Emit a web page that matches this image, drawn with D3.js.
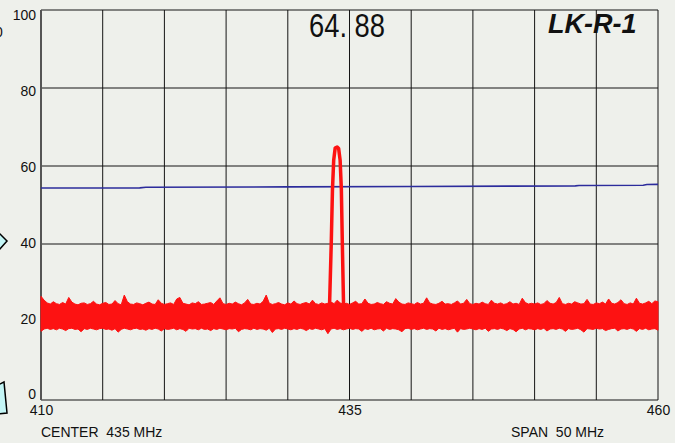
<!DOCTYPE html>
<html lang="en">
<head>
  <meta charset="utf-8">
  <title>LK-R-1 spectrum</title>
  <script src="https://d3js.org/d3.v7.min.js"></script>
  <style>
    body { margin: 0; background: #eef0eb; }
    svg { display: block; }
    .tick text { font-family: "Liberation Sans", Arial, sans-serif; font-size: 14px; fill: #111; }
    .note { font-family: "Liberation Sans", Arial, sans-serif; font-size: 14px; fill: #111; white-space: pre; }
  </style>
</head>
<body>
<script>
// chart data
var freqStart = 410, freqEnd = 460, freqStep = 0.25;
var xTicks = [410, 435, 460];
var yTicks = [0, 20, 40, 60, 80, 100];
var markerValue = "64. 88";
var traceName = "LK-R-1";
var centerLabel = "CENTER  435 MHz";
var spanLabel = "SPAN  50 MHz";

// upper / lower edge of the noise band, one value every 0.25 MHz
var noiseUpper = [
  26.6, 25.6, 24.9, 24.6, 25.2, 24.7, 24.5, 25.0, 24.6, 26.3, 25.1, 24.6, 24.4, 24.8, 24.9, 24.5, 24.7, 25.3, 24.6, 24.4,
  24.8, 25.0, 24.5, 24.6, 25.5, 24.7, 24.4, 26.9, 25.2, 24.6, 24.5, 24.9, 24.7, 24.4, 24.8, 25.1, 24.6, 24.5, 25.7, 24.8,
  24.5, 24.7, 24.9, 24.5, 25.9, 26.3, 24.8, 24.6, 24.4, 24.9, 24.7, 25.2, 24.5, 24.6, 24.8, 25.0, 24.5, 25.4, 26.2, 24.7,
  24.5, 24.8, 24.6, 25.1, 24.7, 24.4, 24.9, 25.8, 24.6, 24.5, 24.8, 24.6, 25.3, 26.9, 24.8, 24.5, 24.7, 25.0, 24.6, 24.4,
  24.9, 24.6, 25.4, 24.7, 24.5, 24.8, 25.0, 24.6, 25.6, 24.7, 24.5, 24.9, 24.6, 24.8, 25.1, 24.7, 25.6, 24.9, 24.6, 24.8,
  24.5, 24.9, 25.3, 24.6, 24.7, 25.9, 24.8, 24.5, 24.6, 25.0, 24.7, 24.5, 25.2, 24.8, 24.6, 26.0, 25.1, 24.6, 24.5, 24.9,
  24.7, 24.5, 25.0, 24.6, 24.8, 26.2, 24.9, 24.6, 24.5, 24.8, 25.3, 24.6, 24.7, 24.5, 24.9, 25.4, 24.6, 24.8, 25.8, 24.7,
  24.5, 24.8, 24.6, 25.1, 24.7, 24.5, 25.6, 24.8, 24.6, 24.9, 24.5, 24.7, 25.2, 24.6, 24.8, 24.5, 26.1, 25.0, 24.6, 24.8,
  24.6, 24.9, 24.5, 24.7, 25.5, 24.8, 24.6, 25.0, 26.3, 24.7, 24.5, 24.8, 24.6, 25.2, 24.9, 24.6, 24.7, 25.8, 24.6, 24.5,
  24.9, 24.7, 25.1, 24.6, 25.9, 24.8, 24.6, 25.0, 25.7, 24.7, 24.5, 24.9, 24.6, 26.1, 24.8, 24.6, 24.9, 25.3, 24.7, 25.4, 25.2
];
var noiseLower = [
  17.6, 18.2, 18.4, 18.1, 18.3, 18.0, 18.4, 18.2, 17.8, 18.3, 18.4, 18.1, 18.2, 17.5, 18.3, 18.1, 18.4, 18.2, 18.0, 18.3,
  18.4, 18.1, 18.2, 17.9, 18.3, 17.4, 18.1, 18.4, 18.2, 18.0, 18.3, 18.4, 18.1, 18.2, 17.9, 18.3, 18.1, 18.4, 18.2, 17.7,
  18.3, 18.1, 18.2, 18.4, 18.0, 18.3, 18.1, 17.6, 18.4, 18.2, 18.3, 18.0, 18.4, 18.1, 18.2, 17.8, 18.3, 18.1, 18.4, 18.2,
  18.0, 18.3, 18.2, 18.4, 17.5, 18.1, 18.3, 18.2, 18.0, 18.4, 18.1, 18.3, 18.2, 17.9, 18.4, 17.3, 18.2, 18.3, 18.1, 18.4,
  18.2, 18.0, 18.3, 18.1, 18.4, 18.2, 17.8, 18.3, 18.1, 18.4, 18.2, 18.0, 18.3, 17.0, 18.2, 18.4, 18.1, 18.3, 18.0, 18.2,
  18.4, 18.1, 18.3, 18.2, 17.6, 18.3, 18.1, 18.4, 18.0, 18.2, 18.3, 17.7, 18.4, 18.1, 18.3, 18.2, 18.0, 17.5, 18.3, 18.4,
  18.1, 18.3, 18.0, 18.2, 18.4, 18.1, 18.3, 18.2, 17.7, 18.4, 18.1, 18.3, 18.0, 18.2, 18.4, 17.4, 18.3, 18.1, 18.2, 18.4,
  18.2, 18.0, 18.3, 18.1, 18.4, 17.6, 18.2, 18.3, 18.1, 18.4, 18.2, 17.8, 18.3, 18.1, 17.5, 18.2, 18.4, 18.0, 18.3, 18.2,
  18.0, 18.3, 18.1, 18.4, 17.7, 18.2, 18.3, 18.1, 18.4, 18.2, 17.6, 18.3, 18.1, 18.2, 18.4, 18.0, 17.4, 18.3, 18.2, 18.1,
  18.4, 18.2, 18.3, 17.8, 18.1, 18.3, 18.4, 17.7, 18.2, 18.3, 18.1, 18.4, 18.2, 17.6, 18.3, 18.1, 18.4, 18.0, 18.2, 18.3, 17.9
];

// the signal peak, [MHz, level]
var peakFreq = [433.38, 433.52, 433.62, 433.72, 433.84, 434.0, 434.12, 434.24, 434.34, 434.42, 434.52];
var peakLevel = [24, 40, 54, 61.5, 64.6, 64.88, 64.5, 61.5, 54, 40, 24];

// blue reference line, [MHz, level]
var refFreq = [410, 418, 418.5, 430, 440, 448, 453.3, 453.6, 458.8, 459.1, 460];
var refLevel = [54.35, 54.4, 54.55, 54.65, 54.75, 54.85, 54.9, 55.0, 55.05, 55.25, 55.3];

var width = 675, height = 443;
var plotL = 41, plotR = 658, plotT = 10, plotB = 400;

var svg = d3.select("body").append("svg")
  .attr("width", width)
  .attr("height", height);

svg.append("rect").attr("width", width).attr("height", height).attr("fill", "#eef0eb");

var x = d3.scaleLinear().domain([freqStart, freqEnd]).range([plotL, plotR]);
var y = d3.scaleLinear().domain([0, 100]).range([plotB, plotT]);
// labels sit slightly inside the grid rows
var yLab = d3.scaleLinear().domain([0, 100]).range([394.5, 15]);

// grid
var grid = svg.append("g").attr("stroke", "#151515").attr("stroke-width", 1);
grid.selectAll("line.v")
  .data(d3.range(freqStart, freqEnd + 0.1, 5))
  .enter().append("line")
  .attr("class", "v")
  .attr("x1", d => x(d)).attr("x2", d => x(d))
  .attr("y1", plotT).attr("y2", plotB);
grid.selectAll("line.h")
  .data(yTicks)
  .enter().append("line")
  .attr("class", "h")
  .attr("x1", plotL).attr("x2", plotR)
  .attr("y1", d => y(d)).attr("y2", d => y(d));
svg.append("line").attr("x1", plotL).attr("x2", plotL).attr("y1", plotT).attr("y2", plotB)
  .attr("stroke", "#555").attr("stroke-width", 2);

// axes
var yAxis = svg.append("g")
  .attr("transform", "translate(" + plotL + ",0)")
  .call(d3.axisLeft(yLab).tickValues(yTicks).tickSize(0).tickPadding(5));
yAxis.select(".domain").remove();

var xAxis = svg.append("g")
  .attr("transform", "translate(0," + plotB + ")")
  .call(d3.axisBottom(x).tickValues(xTicks).tickSize(0).tickPadding(5));
xAxis.select(".domain").remove();

// blue reference
var line = d3.line().x(d => x(d[0])).y(d => y(d[1]));
svg.append("path")
  .datum(d3.zip(refFreq, refLevel))
  .attr("fill", "none")
  .attr("stroke", "#2c2c9c")
  .attr("stroke-width", 1.6)
  .attr("d", line);

// noise band
var noise = d3.range(noiseUpper.length).map(i => ({
  f: freqStart + i * freqStep, hi: noiseUpper[i], lo: noiseLower[i]
}));
var band = d3.area().x(d => x(d.f)).y0(d => y(d.lo)).y1(d => y(d.hi));
svg.append("path")
  .datum(noise)
  .attr("fill", "#fd1212")
  .attr("stroke", "#fd1212")
  .attr("stroke-width", 1)
  .attr("d", band);

// peak
svg.append("path")
  .datum(d3.zip(peakFreq, peakLevel))
  .attr("fill", "none")
  .attr("stroke", "#fd1212")
  .attr("stroke-width", 3.5)
  .attr("stroke-linejoin", "round")
  .attr("d", line);

// texts
svg.append("text")
  .attr("x", 309).attr("y", 37)
  .attr("textLength", 76)
  .attr("lengthAdjust", "spacingAndGlyphs")
  .style("font-family", "'Liberation Sans', Arial, sans-serif")
  .style("font-size", "33px")
  .attr("fill", "#111")
  .text(markerValue);

svg.append("text")
  .attr("x", 548).attr("y", 33)
  .style("font-family", "'Liberation Sans', Arial, sans-serif")
  .style("font-size", "27px")
  .style("font-weight", "bold")
  .style("font-style", "italic")
  .attr("fill", "#111")
  .text(traceName);

svg.append("text").attr("class", "note").attr("x", 41).attr("y", 437).text(centerLabel);
svg.append("text").attr("class", "note").attr("x", 511).attr("y", 437).text(spanLabel);

// cut-off bits of the slide at the left edge
svg.append("text").attr("class", "note").attr("x", -5).attr("y", 37).text("0");
svg.append("path")
  .attr("d", "M-2,232 L7,241 L-2,251")
  .attr("fill", "#c4f6f6").attr("stroke", "#000").attr("stroke-width", 1.5);
svg.append("path")
  .attr("d", "M-2,385 L4,382 L7,413 L-2,414 Z")
  .attr("fill", "#c4f6f6").attr("stroke", "#000").attr("stroke-width", 1.5);
</script>
</body>
</html>
